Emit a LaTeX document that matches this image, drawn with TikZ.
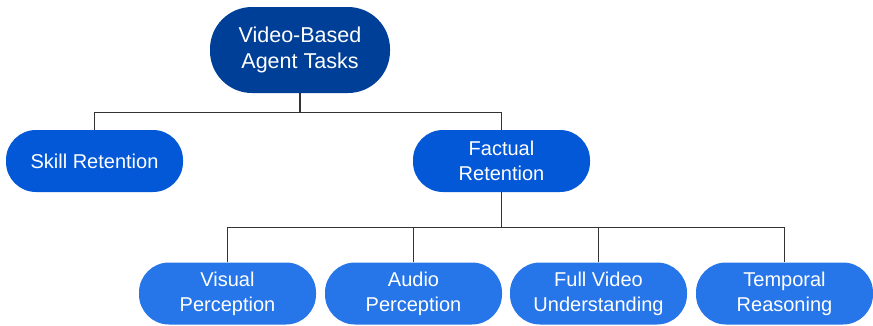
\documentclass[tikz,border=0pt]{standalone}
\usepackage{fontspec}
\setmainfont{Liberation Sans}
\definecolor{rootblue}{HTML}{003F97}
\definecolor{midblue}{HTML}{0258D6}
\definecolor{leafblue}{HTML}{2776E9}
\definecolor{linegray}{HTML}{333333}
\begin{document}
\begin{tikzpicture}[x=1pt,y=-1pt,
  pill/.style={rounded corners=30pt, text=white, align=center, inner sep=0pt,
    minimum width=177pt, minimum height=62pt},
  rootbox/.style={pill, fill=rootblue, rounded corners=42pt, minimum width=180pt, minimum height=86pt,
    font=\fontsize{21.5}{26}\selectfont},
  midbox/.style={pill, fill=midblue, font=\fontsize{20}{25}\selectfont},
  leafbox/.style={pill, fill=leafblue, font=\fontsize{20}{25}\selectfont},
  link/.style={draw=linegray, line width=1.3pt}]
\useasboundingbox (0,0) rectangle (873,325);
\node[rootbox] (root) at (300,50) {Video-Based\\Agent Tasks};
\node[midbox] (skill) at (94.5,161) {Skill Retention};
\node[midbox] (fact) at (501.5,161) {Factual\\Retention};
\node[leafbox] (vis) at (227.5,293.5) {Visual\\Perception};
\node[leafbox] (aud) at (413.5,293.5) {Audio\\Perception};
\node[leafbox] (full) at (598.5,293.5) {Full Video\\Understanding};
\node[leafbox] (temp) at (784.5,293.5) {Temporal\\Reasoning};
\draw[link] (root.south) |- ++(0,19.5) coordinate (j1);
\draw[link] (skill.north) |- (j1) -| (fact.north);
\draw[link] (fact.south) -- ++(0,35) coordinate (j2);
\draw[link] (vis.north) |- (j2) -| (temp.north);
\draw[link] (aud.north) -- (aud.north |- j2);
\draw[link] (full.north) -- (full.north |- j2);
\end{tikzpicture}
\end{document}
